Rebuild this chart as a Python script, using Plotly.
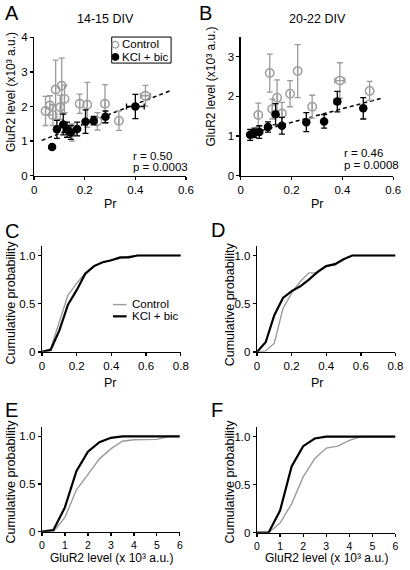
import plotly.graph_objects as go

# ---------------- data ----------------
# Panel A (14-15 DIV)
a_ctrl_x = [0.045, 0.062, 0.074, 0.085, 0.103, 0.109, 0.120, 0.150, 0.180, 0.210, 0.250, 0.280, 0.335, 0.440]
a_ctrl_y = [1.87, 2.03, 1.75, 2.49, 1.98, 2.60, 2.22, 1.25, 2.08, 2.05, 1.57, 2.08, 1.59, 2.31]
a_ctrl_e = [0.42, 0.28, 0.30, 0.85, 0.35, 0.80, 0.40, 0.25, 0.28, 0.65, 0.25, 0.55, 0.28, 0.30]
a_ctrl_xe = [0, 0, 0, 0, 0, 0, 0, 0, 0, 0, 0, 0, 0, 0.02]
a_kcl_x = [0.071, 0.090, 0.115, 0.130, 0.145, 0.170, 0.203, 0.235, 0.282, 0.400]
a_kcl_y = [0.83, 1.34, 1.48, 1.33, 1.25, 1.35, 1.56, 1.59, 1.70, 2.00]
a_kcl_e = [0.05, 0.26, 0.30, 0.22, 0.20, 0.20, 0.34, 0.12, 0.17, 0.35]
a_kcl_xe = [0, 0, 0, 0, 0, 0, 0, 0, 0, 0.035]
a_fit_x = [0.03, 0.54]
a_fit_y = [1.02, 2.46]

# Panel B (20-22 DIV)
b_ctrl_x = [0.069, 0.114, 0.124, 0.143, 0.162, 0.194, 0.224, 0.281, 0.390, 0.507]
b_ctrl_y = [1.53, 2.59, 1.68, 1.97, 1.57, 2.07, 2.64, 1.74, 2.40, 2.14]
b_ctrl_e = [0.30, 0.48, 0.25, 0.45, 0.28, 0.33, 0.67, 0.29, 0.45, 0.24]
b_ctrl_xe = [0, 0, 0, 0, 0, 0, 0, 0, 0.02, 0]
b_kcl_x = [0.037, 0.054, 0.073, 0.107, 0.137, 0.162, 0.258, 0.328, 0.380, 0.482]
b_kcl_y = [1.03, 1.08, 1.10, 1.23, 1.55, 1.26, 1.35, 1.37, 1.87, 1.70]
b_kcl_e = [0.14, 0.12, 0.16, 0.13, 0.27, 0.21, 0.24, 0.17, 0.26, 0.27]
b_kcl_xe = [0, 0, 0, 0, 0, 0, 0, 0, 0.012, 0]
b_fit_x = [0.03, 0.55]
b_fit_y = [1.05, 1.95]

# Panels C, D (cumulative Pr)
pr_x = [0, 0.05, 0.10, 0.15, 0.20, 0.25, 0.30, 0.35, 0.40, 0.45, 0.50, 0.55, 0.80]
c_ctrl = [0, 0.03, 0.31, 0.59, 0.71, 0.82, 0.89, 0.93, 0.95, 0.97, 0.99, 1.0, 1.0]
c_kcl = [0, 0.02, 0.22, 0.49, 0.64, 0.81, 0.89, 0.93, 0.95, 0.98, 0.98, 1.0, 1.0]
d_ctrl = [0, 0.01, 0.09, 0.45, 0.61, 0.73, 0.82, 0.82, 0.89, 0.90, 0.96, 1.0, 1.0]
d_kcl = [0, 0.10, 0.38, 0.56, 0.63, 0.68, 0.75, 0.83, 0.89, 0.91, 0.96, 1.0, 1.0]

# Panels E, F (cumulative GluR2)
glu_x = [0, 0.5, 1.0, 1.5, 2.0, 2.5, 3.0, 3.5, 4.0, 4.5, 5.0, 5.5, 6.0]
e_ctrl = [0, 0, 0.15, 0.44, 0.60, 0.765, 0.87, 0.95, 0.965, 0.97, 0.97, 1.0, 1.0]
e_kcl = [0, 0.017, 0.255, 0.636, 0.84, 0.94, 0.986, 1.0, 1.0, 1.0, 1.0, 1.0, 1.0]
f_ctrl = [0, 0, 0.10, 0.30, 0.58, 0.77, 0.88, 0.90, 0.96, 1.0, 1.0, 1.0, 1.0]
f_kcl = [0, 0, 0.23, 0.69, 0.90, 0.98, 1.0, 1.0, 1.0, 1.0, 1.0, 1.0, 1.0]

pr_ticks = [0, 0.2, 0.4, 0.6]
pr_ticklabels = ["0", "0.2", "0.4", "0.6"]
cdf_pr_ticks = [0, 0.2, 0.4, 0.6, 0.8]
cdf_pr_ticklabels = ["0", "0.2", "0.4", "0.6", "0.8"]
cdf_y_ticks = [0, 0.5, 1.0]
cdf_y_ticklabels = ["0", "0.5", "1.0"]
glu_ticks = [0, 1, 2, 3, 4, 5, 6]

# ---------------- styling ----------------
W, H = 410, 570
GRAY = "#9b9b9b"
FONT = "Arial, Liberation Sans, sans-serif"


def px(x):
    return x / W


def py(y):
    return 1 - y / H


fig = go.Figure()


def scatter_panel(xa, ya, cx, cy, ce, cxe, kx, ky, ke, kxe, fx, fy):
    fig.add_trace(go.Scatter(x=fx, y=fy, mode="lines", xaxis=xa, yaxis=ya,
                             line=dict(color="black", width=1.5, dash="4px,3px"),
                             showlegend=False, hoverinfo="skip"))
    fig.add_trace(go.Scatter(x=cx, y=cy, mode="markers", xaxis=xa, yaxis=ya,
                             marker=dict(symbol="circle-open", size=8.5, color=GRAY,
                                         line=dict(color=GRAY, width=1.4)),
                             error_y=dict(type="data", array=ce, color=GRAY, thickness=1.3, width=3),
                             error_x=dict(type="data", array=cxe, color=GRAY, thickness=1.3, width=3),
                             showlegend=False))
    fig.add_trace(go.Scatter(x=kx, y=ky, mode="markers", xaxis=xa, yaxis=ya,
                             marker=dict(symbol="circle", size=8.5, color="black"),
                             error_y=dict(type="data", array=ke, color="black", thickness=1.3, width=3),
                             error_x=dict(type="data", array=kxe, color="black", thickness=1.3, width=3),
                             showlegend=False))


def cdf_panel(xa, ya, x, ctrl, kcl):
    fig.add_trace(go.Scatter(x=x, y=ctrl, mode="lines", xaxis=xa, yaxis=ya,
                             line=dict(color=GRAY, width=1.4), showlegend=False))
    fig.add_trace(go.Scatter(x=x, y=kcl, mode="lines", xaxis=xa, yaxis=ya,
                             line=dict(color="black", width=2.2), showlegend=False))


scatter_panel("x", "y", a_ctrl_x, a_ctrl_y, a_ctrl_e, a_ctrl_xe,
              a_kcl_x, a_kcl_y, a_kcl_e, a_kcl_xe, a_fit_x, a_fit_y)
scatter_panel("x2", "y2", b_ctrl_x, b_ctrl_y, b_ctrl_e, b_ctrl_xe,
              b_kcl_x, b_kcl_y, b_kcl_e, b_kcl_xe, b_fit_x, b_fit_y)
cdf_panel("x3", "y3", pr_x, c_ctrl, c_kcl)
cdf_panel("x4", "y4", pr_x, d_ctrl, d_kcl)
cdf_panel("x5", "y5", glu_x, e_ctrl, e_kcl)
cdf_panel("x6", "y6", glu_x, f_ctrl, f_kcl)

axis_common = dict(showline=True, linecolor="black", linewidth=1.3, ticks="outside",
                   ticklen=3, tickwidth=1.3, tickcolor="black", showgrid=False,
                   zeroline=False, tickfont=dict(family=FONT, size=11.5, color="black"),
                   fixedrange=True)

# domains in pixels: (left, right, top, bottom)
dom = {
    1: (32, 188, 32, 173.3),
    2: (244.3, 401, 31.7, 173.3),
    3: (40, 182.7, 245, 353.3),
    4: (261, 403.3, 245, 353.3),
    5: (40, 181.7, 430, 537),
    6: (261, 403.3, 430, 538),
}

layout_axes = {}
for i, (l, r, t, b) in dom.items():
    xn = "xaxis" if i == 1 else f"xaxis{i}"
    yn = "yaxis" if i == 1 else f"yaxis{i}"
    ya_ref = "y" if i == 1 else f"y{i}"
    xa_ref = "x" if i == 1 else f"x{i}"
    layout_axes[xn] = dict(axis_common, domain=[px(l), px(r)], anchor=ya_ref)
    layout_axes[yn] = dict(axis_common, domain=[py(b), py(t)], anchor=xa_ref)

for n in ("xaxis", "xaxis2"):
    layout_axes[n].update(range=[0, 0.6], tickvals=pr_ticks, ticktext=pr_ticklabels)
layout_axes["yaxis"].update(range=[0, 4], tickvals=[0, 1, 2, 3, 4])
layout_axes["yaxis2"].update(range=[0, 3.5], tickvals=[0, 1, 2, 3])
for n in ("xaxis3", "xaxis4"):
    layout_axes[n].update(range=[0, 0.8], tickvals=cdf_pr_ticks, ticktext=cdf_pr_ticklabels)
for n in ("xaxis5", "xaxis6"):
    layout_axes[n].update(range=[0, 6], tickvals=glu_ticks,
                          tickfont=dict(family=FONT, size=10.5, color="black"))
for n in ("yaxis3", "yaxis4", "yaxis5", "yaxis6"):
    layout_axes[n].update(range=[0, 1.1], tickvals=cdf_y_ticks, ticktext=cdf_y_ticklabels)

annotations = []


def note(text, x, y, size=12, xanchor="center", yanchor="middle", angle=0):
    annotations.append(dict(text=text, x=px(x), y=py(y), xref="paper", yref="paper",
                            xanchor=xanchor, yanchor=yanchor, showarrow=False,
                            textangle=angle, font=dict(family=FONT, size=size, color="black")))


# panel letters
note("A", 0, 7, size=20, xanchor="left")
note("B", 199, 7, size=20, xanchor="left")
note("C", 0, 230, size=20, xanchor="left")
note("D", 212, 229, size=20, xanchor="left")
note("E", 0, 413, size=20, xanchor="left")
note("F", 212, 413, size=20, xanchor="left")

# titles
note("14-15 DIV", 105, 13, size=12.5)
note("20-22 DIV", 323, 13, size=12.5)

# axis titles
ylab = "GluR2 level (x10³ a.u.)"
note(ylab, 8, 88, size=12, angle=-90)
note(ylab, 214, 82, size=12, angle=-90)
note("Pr", 110, 202, size=12.5)
note("Pr", 323, 202, size=12.5)
note("Cumulative probability", 8, 303, size=12.5, angle=-90)
note("Cumulative probability", 233, 305, size=12.5, angle=-90)
note("Pr", 110, 385, size=12.5)
note("Pr", 323, 385, size=12.5)
note("Cumulative probability", 8, 486, size=12.5, angle=-90)
note("Cumulative probability", 233, 486, size=12.5, angle=-90)
xlab = "GluR2 level (x 10³ a.u.)"
note(xlab, 112, 564, size=12)
note(xlab, 332, 564, size=12)

# statistics
note("r = 0.50", 132, 153, size=11.5, xanchor="left")
note("p = 0.0003", 132, 164, size=11.5, xanchor="left")
note("r = 0.46", 348, 150, size=11.5, xanchor="left")
note("p = 0.0008", 348, 162, size=11.5, xanchor="left")

# legend A (manual)
note("Control", 120.5, 39, size=11.5, xanchor="left")
note("KCl + bic", 120.5, 52, size=11.5, xanchor="left")
# legend C (manual)
note("Control", 130, 304.5, size=11.5, xanchor="left")
note("KCl + bic", 130, 317, size=11.5, xanchor="left")

shapes = [
    dict(type="rect", xref="paper", yref="paper", x0=px(111.7), x1=px(172.7),
         y0=py(58.3), y1=py(31.7), line=dict(color="black", width=1)),
    dict(type="circle", xref="paper", yref="paper", xsizemode="pixel", ysizemode="pixel",
         xanchor=px(115.5), yanchor=py(39.5), x0=-3.2, x1=3.2, y0=-3.2, y1=3.2,
         line=dict(color=GRAY, width=1.3)),
    dict(type="circle", xref="paper", yref="paper", xsizemode="pixel", ysizemode="pixel",
         xanchor=px(115.5), yanchor=py(52), x0=-3.5, x1=3.5, y0=-3.5, y1=3.5,
         line=dict(color="black", width=1), fillcolor="black"),
    dict(type="line", xref="paper", yref="paper", x0=px(113), x1=px(127),
         y0=py(305), y1=py(305), line=dict(color=GRAY, width=1.4)),
    dict(type="line", xref="paper", yref="paper", x0=px(113), x1=px(127),
         y0=py(317), y1=py(317), line=dict(color="black", width=2.2)),
]

fig.update_layout(
    width=W, height=H, margin=dict(l=0, r=0, t=0, b=0),
    paper_bgcolor="white", plot_bgcolor="white",
    font=dict(family=FONT, size=12, color="black"),
    showlegend=False, annotations=annotations, shapes=shapes,
    hovermode=False,
    **layout_axes,
)

fig.write_html("out.html", config={"displayModeBar": False, "staticPlot": True},
               post_script="document.body.style.margin='0px';document.body.style.overflow='hidden';")
